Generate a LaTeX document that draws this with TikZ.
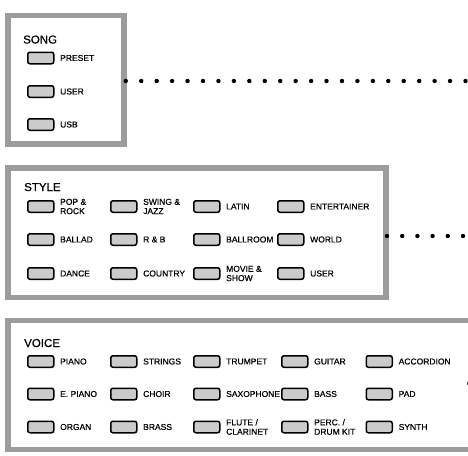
\documentclass[tikz,border=0pt]{standalone}
\usepackage{fontspec}
\setmainfont{Liberation Sans}
\newfontfamily\lblfont[FakeBold=0.6]{Liberation Sans}
\usetikzlibrary{calc}
\definecolor{panelgray}{HTML}{9C9C9C}
\definecolor{btngray}{HTML}{CBCBCB}
\tikzset{
  panel/.style={draw=panelgray, line width=5.5pt, inner sep=0pt, outer sep=0pt, anchor=north west},
  btn/.style={draw=black, fill=btngray, rounded corners=2.2pt, line width=1.5pt, minimum width=26pt, minimum height=11.5pt, inner sep=0pt, anchor=west},
  lbl/.style={anchor=west, font=\lblfont\fontsize{8.5}{9.3}\selectfont, inner sep=0pt, align=left},
  hdr/.style={anchor=base west, font=\lblfont\fontsize{11.5}{12}\selectfont, inner sep=0pt},
  dotmark/.style={fill=black}
}
\newcommand\btnlbl[4]{%
  \node[btn] (#1) at (#2,#3) {};
  \node[lbl] (#1-t) at ([xshift=5.5pt]#1.east) {#4};}
\begin{document}
\begin{tikzpicture}[x=1pt,y=-1pt]
\useasboundingbox (0,0) rectangle (468,455);
\clip (0,0) rectangle (468,455);
% panels
\node[panel, minimum width=116pt, minimum height=128.5pt] (song) at (8,15.5) {};
\node[panel, minimum width=378pt, minimum height=129.5pt] (style) at (8,168) {};
\node[panel, minimum width=480pt, minimum height=129pt] (voice) at (8,320.5) {};
% headers
\node[hdr] (songh) at (23,43.5) {SONG};
\node[hdr] (styleh) at (24,191) {STYLE};
\node[hdr] (voiceh) at (24,347) {VOICE};
% song buttons
\btnlbl{preset}{27}{58}{PRESET}
\btnlbl{suser}{27}{91.5}{USER}
\btnlbl{usb}{27}{124.5}{USB}
% style buttons
\btnlbl{pop}{27}{206.5}{POP \&\\ROCK}
\btnlbl{swing}{110}{206.5}{SWING \&\\JAZZ}
\btnlbl{latin}{193}{206.5}{LATIN}
\btnlbl{ent}{277}{206.5}{ENTERTAINER}
\btnlbl{ballad}{27}{239.5}{BALLAD}
\btnlbl{rnb}{110}{239.5}{R \& B}
\btnlbl{ballroom}{193}{239.5}{BALLROOM}
\btnlbl{world}{277}{239.5}{WORLD}
\btnlbl{dance}{27}{273.5}{DANCE}
\btnlbl{country}{110}{273.5}{COUNTRY}
\btnlbl{movie}{193}{273.5}{MOVIE \&\\SHOW}
\btnlbl{stuser}{277}{273.5}{USER}
% voice buttons
\btnlbl{piano}{27}{361.5}{PIANO}
\btnlbl{strings}{110}{361.5}{STRINGS}
\btnlbl{trumpet}{193}{361.5}{TRUMPET}
\btnlbl{guitar}{281}{361.5}{GUITAR}
\btnlbl{accordion}{365.5}{361.5}{ACCORDION}
\btnlbl{epiano}{27}{394}{E. PIANO}
\btnlbl{choir}{110}{394}{CHOIR}
\btnlbl{sax}{193}{394}{SAXOPHONE}
\btnlbl{bass}{281}{394}{BASS}
\btnlbl{pad}{365.5}{394}{PAD}
\btnlbl{organ}{27}{427}{ORGAN}
\btnlbl{brass}{110}{427}{BRASS}
\btnlbl{flute}{193}{427}{FLUTE /\\CLARINET}
\btnlbl{perc}{281}{427}{PERC. /\\DRUM KIT}
\btnlbl{synth}{365.5}{427}{SYNTH}
% dotted connectors
\coordinate (songdot) at (125.8,81);
\coordinate (songend) at (465.5,81);
\foreach \i in {0,...,22}
  \fill[dotmark] ($(songdot)!\i/22!(songend)$) circle (2.2pt);
\coordinate (styledot) at (387,236);
\coordinate (styleend) at (463,236);
\foreach \i in {0,...,5}
  \fill[dotmark] ($(styledot)!\i/5!(styleend)$) circle (2.2pt);
\coordinate (mk1) at (467,381.5);
\coordinate (mk2) at (467,385);
\draw[line width=1pt, black!70] (mk1) -- (mk2);
\end{tikzpicture}
\end{document}
